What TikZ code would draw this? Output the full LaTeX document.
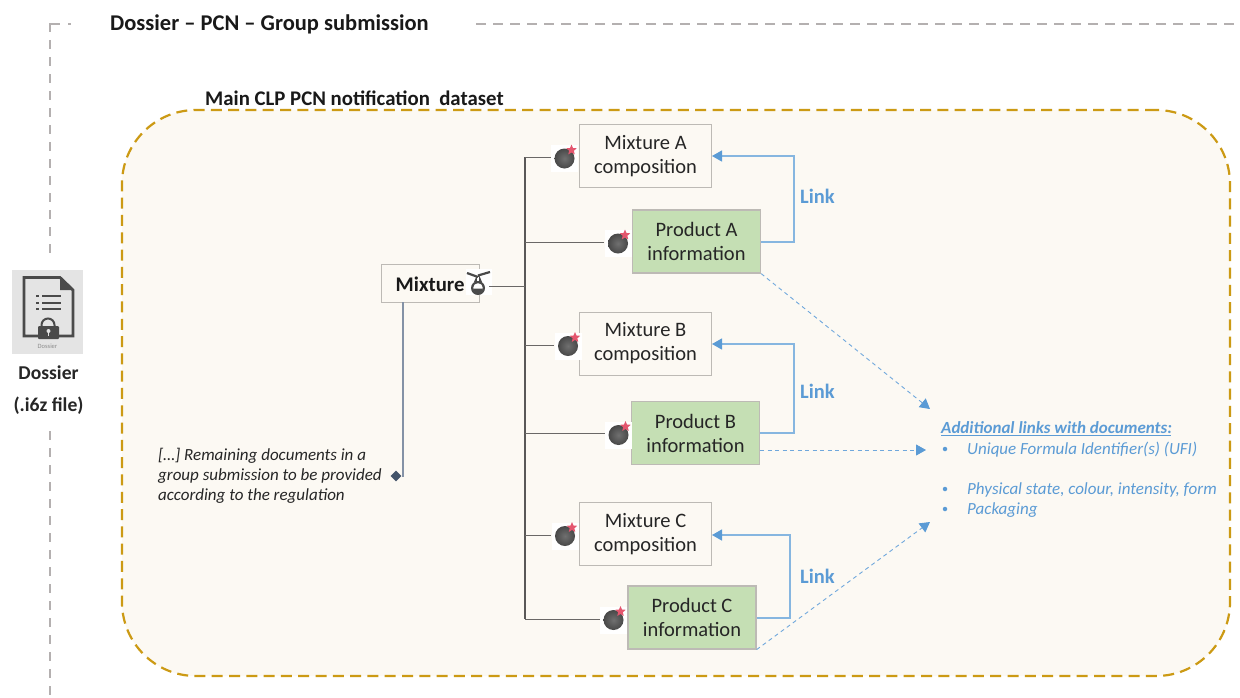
\documentclass[tikz,border=0pt]{standalone}
\usepackage{fontspec}
\setmainfont{Carlito}
\usetikzlibrary{arrows.meta,calc,shapes.geometric,shapes.misc}
\definecolor{bgcream}{HTML}{FCF9F3}
\definecolor{goldline}{HTML}{CC9A14}
\definecolor{greyline}{HTML}{B4B0B0}
\definecolor{boxline}{HTML}{BDBAB5}
\definecolor{greenfill}{HTML}{C5DFB4}
\definecolor{linkblue}{HTML}{5B9BD5}
\definecolor{linklight}{HTML}{86B6E0}
\definecolor{dashblue}{HTML}{70A8DC}
\definecolor{treeline}{HTML}{6A6866}
\definecolor{iconbg}{HTML}{E4E4E4}
\definecolor{icondark}{HTML}{4A4A4A}
\definecolor{bombin}{HTML}{707070}
\definecolor{bombout}{HTML}{484848}
\definecolor{starred}{HTML}{E4566E}
\definecolor{slateline}{HTML}{8492A6}
\definecolor{slatedark}{HTML}{44546A}
\tikzset{
  x=1pt,y=-1pt,
  dbox/.style={draw=boxline,line width=1pt,fill=bgcream,minimum width=132pt,minimum height=63pt,align=center,font=\fontsize{20.5}{24}\selectfont,text=black!85,inner sep=0pt},
  gbox/.style={draw=boxline,line width=1.2pt,fill=greenfill,minimum width=128pt,minimum height=63pt,align=center,font=\fontsize{20.5}{24}\selectfont,text=black!85,inner sep=0pt},
  tree/.style={draw=treeline,line width=1pt},
  linkarrow/.style={draw=linklight,line width=1.3pt,-{Triangle[length=10pt,width=11pt,color=linkblue]}},
  dasharrow/.style={draw=dashblue,line width=.9pt,dash pattern=on 4pt off 3.5pt,-{Triangle[length=10pt,width=11pt,color=linkblue]}},
  linklabel/.style={text=linkblue,font=\fontsize{20.5}{22}\selectfont\bfseries,inner sep=0pt},
  borderdash/.style={draw=greyline,line width=1.8pt,dash pattern=on 9pt off 8pt},
  titletext/.style={font=\fontsize{22.5}{24}\selectfont\bfseries,inner sep=0pt,text=black!90},
  bluelist/.style={text=linkblue,font=\fontsize{17}{20}\selectfont\itshape,inner sep=0pt,anchor=west},
  bullet/.style={circle,fill=linkblue,minimum size=4.5pt,inner sep=0pt},
  bombicon/.style={circle,inner color=bombin,outer color=bombout,minimum size=20pt,inner sep=0pt},
  bombback/.style={fill=white,minimum width=27pt,minimum height=27pt,inner sep=0pt},
  bombstar/.style={star,star points=5,star point ratio=2.2,fill=starred,minimum size=11pt,inner sep=0pt},
}
\newcommand{\bombat}[3]{%
  \node[bombback] (#1back) at (#2,#3) {};
  \node[bombicon] (#1) at (#2,#3) {};
  \node[bombstar] (#1star) at ($(#1)+(7,-8.5)$) {};
}
\begin{document}
\begin{tikzpicture}
\useasboundingbox (0,0) rectangle (1240,697);
\fill[white] (0,0) rectangle (1240,697);

% outer dashed frame
\coordinate (frameA) at (60,24);
\coordinate (frameA2) at (68,24);
\coordinate (frameA3) at (71,24);
\coordinate (frameB) at (50,24);
\coordinate (frameB0) at (50,23);
\coordinate (frameC) at (50,255);
\coordinate (frameD) at (50,697);
\coordinate (frameE) at (50,431);
\coordinate (frameF) at (476,24);
\coordinate (frameG) at (1240,24);
\draw[borderdash] (frameB0) -- (frameC);
\draw[draw=greyline,line width=1.8pt] (frameB) -- (frameA);
\draw[draw=greyline,line width=1.8pt] (frameA2) -- (frameA3);
\draw[borderdash] (frameE) -- (frameD);
\draw[draw=greyline,line width=1.8pt,dash pattern=on 10pt off 7pt] (frameF) -- (frameG);
\node[titletext,anchor=west] (title) at (110,24.5) {Dossier – PCN – Group submission};

% dataset frame
\node[draw=goldline,line width=2.2pt,dash pattern=on 11pt off 6.3pt,fill=bgcream,rounded corners=74pt,minimum width=1108pt,minimum height=566pt,inner sep=0pt] (dataset) at (676,393) {};
\node[anchor=west,font=\fontsize{20.8}{22}\selectfont\bfseries,inner sep=0pt,text=black!90] (datasettitle) at (205,98) {Main CLP PCN notification\ \ dataset};

% dossier icon
\node[fill=iconbg,minimum width=71pt,minimum height=84pt,inner sep=0pt] (dossiericon) at (47.5,312) {};
\draw[icondark,line width=2.8pt,line join=miter] (38,336) -- (24,336) -- (24,277.5) -- (60,277.5) -- (73,290) -- (73,336) -- (58,336);
\fill[icondark] (60,277) -- (74,290) -- (60,290) -- cycle;
\foreach \yy in {296,303,309}{
  \draw[icondark,line width=1.6pt] (36,\yy) -- (39,\yy);
  \draw[icondark,line width=1.6pt] (42,\yy) -- (61,\yy);
}
\draw[icondark,line width=2pt] (41.5,328) -- (41.5,325) arc[start angle=180,end angle=0,radius=6.5pt] -- (54.5,328);
\fill[icondark,rounded corners=1pt] (38,326) rectangle (59,339);
\fill[iconbg] (48.5,331) circle (2pt);
\fill[iconbg] (47.6,331) rectangle (49.4,336);
\node[font=\fontsize{6.5}{8}\selectfont,text=black!45,inner sep=0pt] (dossiertiny) at (47.5,346) {Dossier};
\node[align=center,font=\fontsize{19.6}{32}\selectfont\bfseries,inner sep=0pt,text=black!85] (dossierlabel) at (48.5,390) {Dossier\\(.i6z file)};

% Mixture root
\node[draw=boxline,line width=1pt,fill=bgcream,minimum width=97.5pt,minimum height=38pt,inner sep=0pt] (mixture) at (430.3,283) {};
\node[font=\fontsize{20.8}{24}\selectfont\bfseries,inner sep=0pt,text=black!90,anchor=west] (mixturetext) at (395.5,284) {Mixture};
\node[fill=white,minimum width=26pt,minimum height=26pt,inner sep=0pt] (flask) at (479,282) {};
\fill[icondark] (478,288) circle (7pt);
\fill[white] (478,288) circle (4.8pt);
\fill[icondark] (473,288.5) -- (483,288.5) arc[start angle=0,end angle=-180,radius=5pt] -- cycle;
\fill[icondark] (476.5,276) -- (479.5,276) -- (482,282) -- (474,282) -- cycle;
\fill[white] (477.3,277) rectangle (478.7,281);
\draw[icondark,line width=2.2pt] (467,273) -- (478,277);
\draw[icondark,line width=2.2pt] (478,275.5) -- (490,272);

% boxes
\node[dbox] (mixA) at (645.5,156) {Mixture A\\composition};
\node[gbox] (prodA) at (696.5,241.5) {Product A\\information};
\node[dbox] (mixB) at (645.5,343.5) {Mixture B\\composition};
\node[gbox] (prodB) at (695.5,433) {Product B\\information};
\node[dbox] (mixC) at (645.5,534) {Mixture C\\composition};
\node[gbox] (prodC) at (692,617.5) {Product C\\information};

% tree
\coordinate (spineTop) at (525,157);
\coordinate (spineMid) at (525,286);
\coordinate (spineBot) at (525,619);
\coordinate (junPA) at (525,242.5);
\coordinate (junMB) at (525,345);
\coordinate (junPB) at (525,433.5);
\coordinate (junMC) at (525,535);
\coordinate (flaskOut) at (489,286);
\draw[tree,draw=treeline!85!black,line width=1.1pt] (spineTop) -- (spineBot);
\bombat{bA}{564.5}{158.5}
\bombat{bPA}{618}{243.5}
\bombat{bB}{568}{346}
\bombat{bPB}{618.5}{435}
\bombat{bC}{565}{536}
\bombat{bPC}{613.5}{620}
\draw[tree] (spineTop) -- (bAback.west |- spineTop);
\draw[tree] (junPA) -- (bPAback.west |- junPA);
\draw[tree] (junMB) -- (bBback.west |- junMB);
\draw[tree] (junPB) -- (bPBback.west |- junPB);
\draw[tree] (junMC) -- (bCback.west |- junMC);
\draw[tree] (spineBot) -- (bPCback.west |- spineBot);
\draw[tree] (flaskOut) -- (spineMid);

% Remaining documents branch
\coordinate (remainTop) at (403,302);
\coordinate (remainBend) at (403,476);
\node[diamond,fill=slatedark,draw=none,minimum size=11pt,inner sep=0pt] (remain) at (396,476) {};
\draw[draw=slateline,line width=1.4pt] (remainTop) -- (remainBend) -- (remain.east);
\node[anchor=north west,align=left,font=\fontsize{17}{20}\selectfont\itshape,inner sep=0pt,text=black!85] (remaintext) at (158,448.5) {[…] Remaining documents in a\\group submission to be provided\\according to the regulation};

% link arrows
\coordinate (lA) at (794,156);
\coordinate (lAb) at (794,242);
\draw[linkarrow] (prodA.east |- lAb) -- (lAb) -- (lA) -- (mixA.east |- lA);
\coordinate (lB) at (794,344);
\coordinate (lBb) at (794,433);
\draw[linkarrow] (prodB.east |- lBb) -- (lBb) -- (lB) -- (mixB.east |- lB);
\coordinate (lC) at (790,535);
\coordinate (lCb) at (790,618);
\draw[linkarrow] (prodC.east |- lCb) -- (lCb) -- (lC) -- (mixC.east |- lC);
\node[linklabel,anchor=west] (linkA) at (800,196) {Link};
\node[linklabel,anchor=west] (linkB) at (800,391) {Link};
\node[linklabel,anchor=west] (linkC) at (800,576) {Link};

% additional links
\coordinate (tA) at (930,409);
\coordinate (tB) at (926,450);
\coordinate (tC) at (930,522);
\draw[dasharrow] (prodA.south east) -- (tA);
\draw[dasharrow] (prodB.east |- tB) -- (tB);
\draw[dasharrow] (prodC.south east) -- (tC);

\node[anchor=west,inner sep=0pt,text=linkblue,font=\fontsize{17}{20}\selectfont\bfseries\itshape] (addl) at (941,428) {Additional links with documents:};
\coordinate (ulA) at (941,435.5);
\coordinate (ulB) at (1171,435.5);
\draw[linkblue,line width=.9pt] (ulA) -- (ulB);
\node[bullet] (b1) at (945,449) {};
\node[bluelist] (ufi) at (967,449.5) {Unique Formula Identifier(s) (UFI)};
\node[bullet] (b2) at (945,489) {};
\node[bluelist] (phys) at (967,489.5) {Physical state, colour, intensity, form};
\node[bullet] (b3) at (945,509) {};
\node[bluelist] (pack) at (967,510) {Packaging};
\end{tikzpicture}
\end{document}
